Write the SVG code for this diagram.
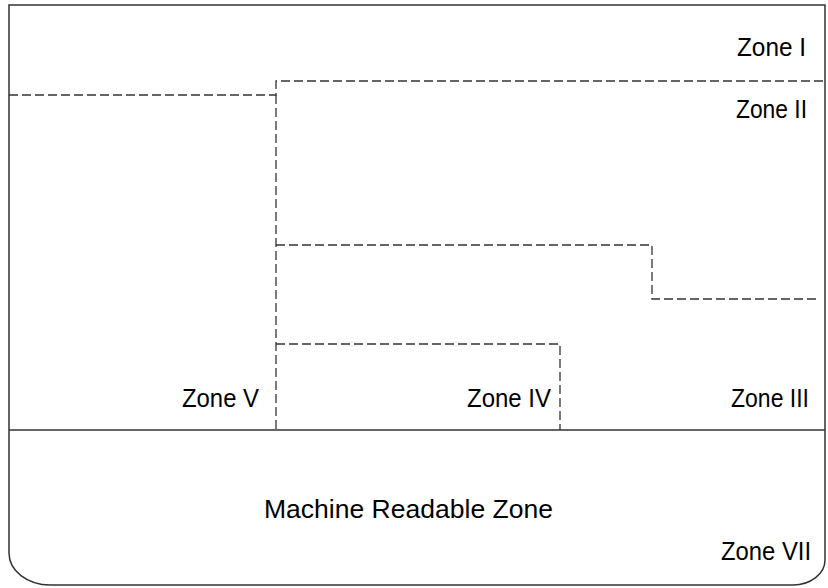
<svg xmlns="http://www.w3.org/2000/svg" width="828" height="588" viewBox="0 0 828 588">
<style>
.solid{fill:none;stroke:#333;stroke-width:1.5}
.dash{fill:none;stroke:#333;stroke-width:1.3;stroke-dasharray:9 4}
text{font-family:"Liberation Sans",Arial,sans-serif;font-size:25px;fill:#000}
</style>
<rect width="828" height="588" fill="#fff"/>
<g id="frame">
<path class="solid" d="M9,5 H825 V560 A32,25 0 0 1 793,585 H50 A41,32 0 0 1 9,553 Z"/>
<line class="solid" x1="9" y1="430" x2="825" y2="430"/>
</g>
<g id="connectors">
<path class="dash" d="M9,95 H276 V81 H825"/>
<path class="dash" d="M276,95 V430"/>
<path class="dash" d="M276,245 H652 V299 H820"/>
<path class="dash" d="M276,344 H560 V430"/>
</g>
<g id="zone1"><text x="737" y="56" textLength="69" lengthAdjust="spacingAndGlyphs">Zone I</text></g>
<g id="zone2"><text x="736" y="118" textLength="71" lengthAdjust="spacingAndGlyphs">Zone II</text></g>
<g id="zone3"><text x="731" y="407" textLength="78" lengthAdjust="spacingAndGlyphs">Zone III</text></g>
<g id="zone4"><text x="467" y="407" textLength="84" lengthAdjust="spacingAndGlyphs">Zone IV</text></g>
<g id="zone5"><text x="182" y="407" textLength="77" lengthAdjust="spacingAndGlyphs">Zone V</text></g>
<g id="mrz"><text x="264" y="518" textLength="289" lengthAdjust="spacingAndGlyphs">Machine Readable Zone</text></g>
<g id="zone7"><text x="721" y="560" textLength="90" lengthAdjust="spacingAndGlyphs">Zone VII</text></g>
</svg>
